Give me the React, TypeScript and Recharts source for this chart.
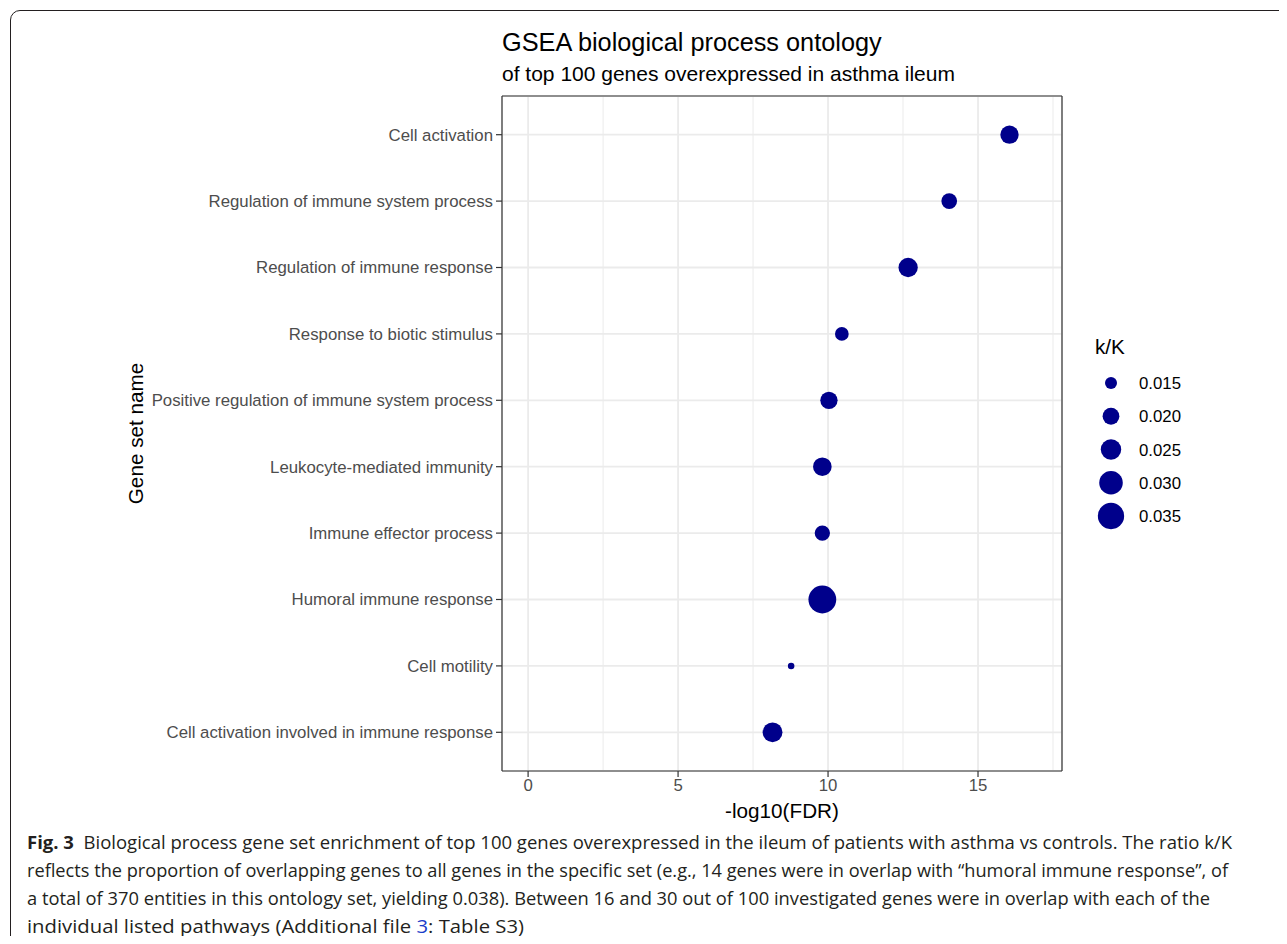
import { ScatterChart, Scatter, XAxis, YAxis, ZAxis, CartesianGrid, ReferenceLine } from "recharts"

// gene sets, top to bottom as in the figure
const geneSets = [
  "Cell activation",
  "Regulation of immune system process",
  "Regulation of immune response",
  "Response to biotic stimulus",
  "Positive regulation of immune system process",
  "Leukocyte-mediated immunity",
  "Immune effector process",
  "Humoral immune response",
  "Cell motility",
  "Cell activation involved in immune response",
]
const log10Fdr = [16.05, 14.04, 12.67, 10.46, 10.03, 9.81, 9.81, 9.81, 8.77, 8.15]
const ratioKK = [0.022, 0.0187, 0.0234, 0.0166, 0.0207, 0.0224, 0.0183, 0.038, 0.0113, 0.0241]

const xTicks = [0, 5, 10, 15]
const xMinorTicks = [2.5, 7.5, 12.5, 17.5]
const legendRatios = [0.015, 0.02, 0.025, 0.03, 0.035]
const legendLabels = ["0.015", "0.020", "0.025", "0.030", "0.035"]

const captionLead = "Fig. 3"
const captionLines = [
  "Biological process gene set enrichment of top 100 genes overexpressed in the ileum of patients with asthma vs controls. The ratio k/K",
  "reflects the proportion of overlapping genes to all genes in the specific set (e.g., 14 genes were in overlap with \u201chumoral immune response\u201d, of",
  "a total of 370 entities in this ontology set, yielding 0.038). Between 16 and 30 out of 100 investigated genes were in overlap with each of the",
]
const captionLast = ["individual listed pathways (Additional file ", "3", ": Table S3)"]

const data = geneSets.map((name, i) => ({ name, fdr: log10Fdr[i], ratio: ratioKK[i] }))

const xDomain = [-0.87, 17.8]
const zDomain = [0.01, 0.04]
const zRange = [5.5, 651] // symbol area, px^2

// same linear area mapping as the ZAxis, used for the size key
const legendRadius = (v: number) => {
  const area = zRange[0] + ((v - zDomain[0]) / (zDomain[1] - zDomain[0])) * (zRange[1] - zRange[0])
  return Math.sqrt(area / Math.PI)
}

const FONT = "'Liberation Sans', Arial, Helvetica, sans-serif"
const CAPTION_FONT = "'Open Sans', sans-serif"
const DOT = "#00008B"
const FRAME = { stroke: "#333", strokeWidth: 1.2 }

export default function App() {
  const tickStyle = { fill: "#4D4D4D", fontSize: 16.8, fontFamily: FONT }

  return (
    <div style={{ position: "relative", width: 1287, height: 944, margin: -8, overflow: "hidden", background: "#fff" }}>
      <div
        style={{
          position: "absolute",
          left: 10,
          top: 10,
          width: 1300,
          height: 960,
          border: "1px solid #231f20",
          borderTopLeftRadius: 10,
          boxSizing: "border-box",
        }}
      />

      <div style={{ position: "absolute", left: 0, top: 0 }}>
        <ScatterChart width={1100} height={830} margin={{ top: 95, right: 37, bottom: 0, left: 0 }}>
          <CartesianGrid stroke="#EBEBEB" strokeWidth={1.8} />
          {xMinorTicks.map((v) => (
            <ReferenceLine key={v} x={v} stroke="#EBEBEB" strokeWidth={1} />
          ))}
          <XAxis
            type="number"
            dataKey="fdr"
            domain={xDomain}
            allowDataOverflow
            ticks={xTicks}
            height={59}
            tickSize={6}
            tickMargin={2}
            axisLine={FRAME}
            tickLine={FRAME}
            tick={tickStyle}
          />
          {/* top and right edges of the panel frame */}
          <XAxis
            xAxisId="top"
            orientation="top"
            type="number"
            domain={xDomain}
            allowDataOverflow
            height={1}
            tick={false}
            tickLine={false}
            axisLine={FRAME}
          />
          <YAxis
            type="category"
            dataKey="name"
            width={502}
            reversed
            interval={0}
            allowDuplicatedCategory={false}
            padding={{ top: 5.5, bottom: 5.5 }}
            tickSize={6}
            tickMargin={3}
            axisLine={FRAME}
            tickLine={FRAME}
            tick={tickStyle}
          />
          <YAxis
            yAxisId="right"
            orientation="right"
            type="number"
            domain={[0, 1]}
            width={1}
            tick={false}
            tickLine={false}
            axisLine={FRAME}
          />
          <ZAxis type="number" dataKey="ratio" domain={zDomain} range={zRange} />
          <Scatter data={data} fill={DOT} isAnimationActive={false} />
        </ScatterChart>
      </div>

      <svg width={1287} height={944} style={{ position: "absolute", left: 0, top: 0, pointerEvents: "none" }}>
        <text x={502} y={51} fontFamily={FONT} fontSize={25.3} fill="#000">
          GSEA biological process ontology
        </text>
        <text x={502} y={81} fontFamily={FONT} fontSize={21} fill="#000">
          of top 100 genes overexpressed in asthma ileum
        </text>
        <text x={782} y={818} textAnchor="middle" fontFamily={FONT} fontSize={20.7} fill="#000">
          -log10(FDR)
        </text>
        <text
          x={0}
          y={0}
          transform="translate(142.5 433.5) rotate(-90)"
          textAnchor="middle"
          fontFamily={FONT}
          fontSize={20.7}
          fill="#000"
        >
          Gene set name
        </text>

        {/* size key */}
        <text x={1095} y={354} fontFamily={FONT} fontSize={20.7} fill="#000">
          k/K
        </text>
        {legendRatios.map((v, i) => (
          <g key={v}>
            <circle cx={1111} cy={383 + i * 33.25} r={legendRadius(v)} fill={DOT} />
            <text x={1139} y={389 + i * 33.25} fontFamily={FONT} fontSize={16.8} fill="#000">
              {legendLabels[i]}
            </text>
          </g>
        ))}

        {/* caption */}
        <text x={27} y={849} textLength={1205} lengthAdjust="spacingAndGlyphs" fontFamily={CAPTION_FONT} fontSize={17.5} fill="#231f20">
          <tspan fontWeight={700}>{captionLead}</tspan>
          {"\u00a0\u00a0" + captionLines[0]}
        </text>
        <text x={27} y={877} textLength={1201} lengthAdjust="spacingAndGlyphs" fontFamily={CAPTION_FONT} fontSize={17.5} fill="#231f20">
          {captionLines[1]}
        </text>
        <text x={27} y={905} textLength={1183} lengthAdjust="spacingAndGlyphs" fontFamily={CAPTION_FONT} fontSize={17.5} fill="#231f20">
          {captionLines[2]}
        </text>
        <text x={27} y={933} textLength={497} lengthAdjust="spacingAndGlyphs" fontFamily={CAPTION_FONT} fontSize={17.5} fill="#231f20">
          {captionLast[0]}
          <tspan fill="#1a3cc8">{captionLast[1]}</tspan>
          {captionLast[2]}
        </text>
      </svg>
    </div>
  )
}
